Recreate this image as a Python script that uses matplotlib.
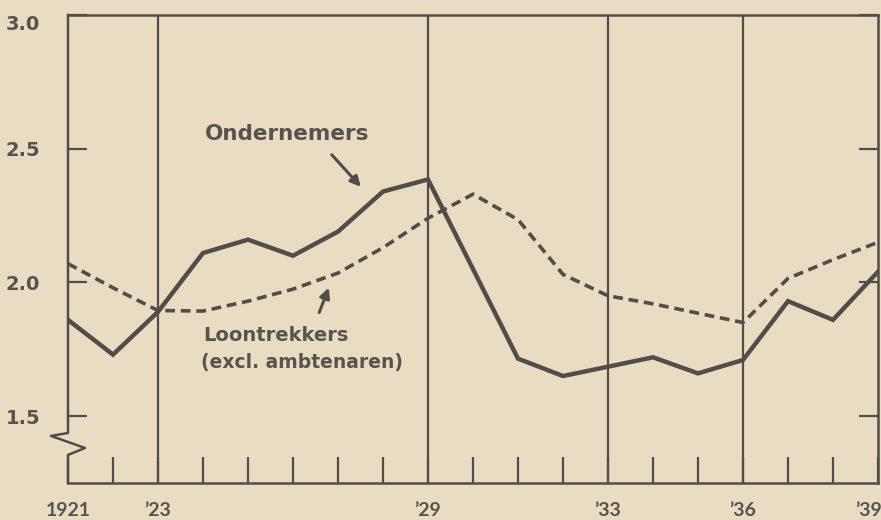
import matplotlib
matplotlib.use("Agg")
import matplotlib.pyplot as plt
from matplotlib.transforms import blended_transform_factory

# Inkomen per hoofd (index), 1921-1939
years = list(range(1921, 1940))
ondernemers = [1.86, 1.73, 1.89, 2.11, 2.16, 2.10, 2.19, 2.34, 2.385, 2.05,
               1.715, 1.65, 1.685, 1.72, 1.66, 1.71, 1.93, 1.86, 2.04]
loontrekkers = [2.07, 1.98, 1.895, 1.893, 1.93, 1.975, 2.035, 2.13, 2.24, 2.33,
                2.235, 2.03, 1.95, 1.92, 1.885, 1.85, 2.015, 2.085, 2.15]

major_years = [1921, 1923, 1929, 1933, 1936, 1939]
major_labels = ["1921", "’23", "’29", "’33", "’36", "’39"]
grid_years = [1923, 1929, 1933, 1936]
y_ticks = [1.5, 2.0, 2.5, 3.0]
y_labels = ["1.5", "2.0", "2.5", "3.0"]

paper = "#e8ddc2"
ink = "#524d48"
text_ink = "#58534d"

fig = plt.figure(figsize=(8.81, 5.2), dpi=100, facecolor=paper)
ax = fig.add_axes([68 / 881, 37 / 520, 810 / 881, 468 / 520])
ax.set_facecolor(paper)

ax.set_xlim(1921, 1939)
ax.set_ylim(1.25, 3.0)

for yr in grid_years:
    ax.axvline(yr, color=ink, lw=1.6, zorder=1)

ax.plot(years, ondernemers, color=ink, lw=3.2, solid_joinstyle="miter", zorder=3)
ax.plot(years, loontrekkers, color=ink, lw=2.6, dashes=(2.7, 1.6), zorder=3)

# spines
for side in ["top", "bottom", "right"]:
    ax.spines[side].set_color(ink)
    ax.spines[side].set_linewidth(1.8)
ax.spines["left"].set_visible(False)

# left axis with break symbol
tr = blended_transform_factory(ax.transAxes, ax.transData)
ax.plot([0, 0, -0.021, 0.021, 0, 0], [3.0, 1.437, 1.426, 1.381, 1.355, 1.25],
        color=ink, lw=1.8, transform=tr, clip_on=False, zorder=4)

# x ticks: small inward ticks every year, labels only on major years
ax.set_xticks(years)
ax.set_xticklabels([""] * len(years))
ax.tick_params(axis="x", direction="in", length=19, width=1.6, color=ink)
xtr = blended_transform_factory(ax.transData, ax.transAxes)
for yr, lab in zip(major_years, major_labels):
    shift = -7 if yr == major_years[-1] else 0
    ax.annotate(lab, xy=(yr, -0.058), xycoords=xtr, xytext=(shift, 0),
                textcoords="offset points", ha="center", va="center",
                fontsize=14, fontweight="bold", color=text_ink,
                family="Lato", annotation_clip=False)

ax.set_yticks(y_ticks)
ax.set_yticklabels(y_labels, fontsize=14, fontweight="bold", color=text_ink,
                   family="DejaVu Sans")
ax.tick_params(axis="y", direction="in", length=14, width=1.6, color=ink,
               pad=20, left=True, right=True)
# the top label sits a little below the frame in the original
ax.get_yticklabels()[-1].set_va("top")

# annotations
arrow = dict(arrowstyle="-|>,head_length=0.6,head_width=0.3", color=ink, lw=2.2)
ax.annotate("", xy=(1927.55, 2.35), xytext=(1926.82, 2.485), arrowprops=arrow)
ax.text(1924.05, 2.555, "Ondernemers", fontsize=15.5, fontweight="bold",
        color=text_ink, family="DejaVu Sans", va="center", ha="left")

ax.annotate("", xy=(1926.82, 1.99), xytext=(1926.56, 1.878), arrowprops=arrow)
ax.text(1924.0, 1.80, "Loontrekkers", fontsize=14, fontweight="bold",
        color=text_ink, family="DejaVu Sans", va="center", ha="left")
ax.text(1923.95, 1.70, "(excl. ambtenaren)", fontsize=13.5, fontweight="bold",
        color=text_ink, family="DejaVu Sans", va="center", ha="left")

fig.savefig("out.png", dpi=100, facecolor=paper)
